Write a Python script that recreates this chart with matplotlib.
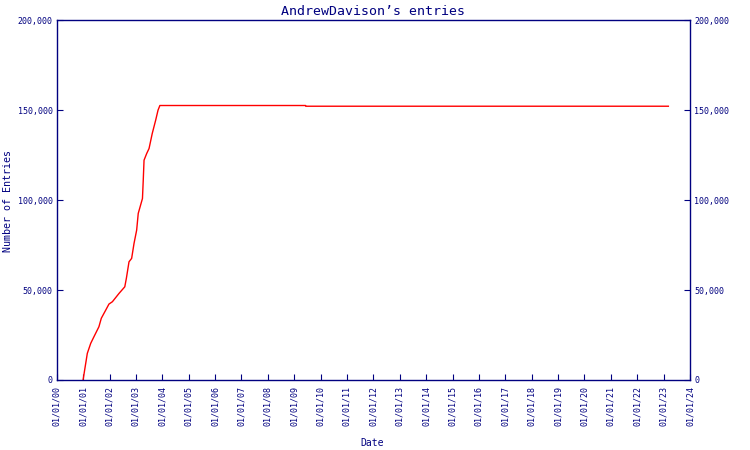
import matplotlib
matplotlib.use("Agg")
import matplotlib.pyplot as plt
import matplotlib.ticker as mticker
import datetime as dt
import matplotlib.dates as mdates

# Data: decimal years since 2000 and cumulative entry counts
years = [1.00, 1.06, 1.12, 1.16, 1.29, 1.41, 1.60, 1.69, 1.86, 1.98, 2.11, 2.36,
         2.58, 2.64, 2.74, 2.84, 2.93, 3.03, 3.09, 3.25, 3.28, 3.31, 3.41, 3.50,
         3.62, 3.75, 3.84, 3.91, 9.43, 9.44, 23.18]
entries = [0, 5600, 11100, 14800, 20400, 24000, 29600, 34300, 38900, 42200, 43500, 48100,
           51800, 56500, 65700, 67600, 75900, 83300, 92600, 100900, 111100, 122200, 125900, 128700,
           137000, 144400, 150000, 152600, 152600, 152200, 152200]
tick_years = list(range(2000, 2025))
title = "AndrewDavison\u2019s entries"

navy = "#000080"
plt.rcParams['font.family'] = ['DejaVu Sans Mono']

def to_date(y):
    base = dt.datetime(2000, 1, 1)
    return base + dt.timedelta(days=y * 365.25)

dates = [to_date(y) for y in years]

fig = plt.figure(figsize=(7.5, 4.5), dpi=100)
ax = fig.add_axes([0.0756, 0.1556, 0.92 - 0.0756, 0.955 - 0.1556])
ax.plot(dates, entries, color="red", linewidth=1.0)

ax.set_xlim(dt.datetime(2000, 1, 1), dt.datetime(2024, 1, 1))
ax.set_ylim(0, 200000)
ax.set_xticks([dt.datetime(y, 1, 1) for y in tick_years])
ax.xaxis.set_major_formatter(mdates.DateFormatter("%m/%d/%y"))
ax.set_yticks([0, 50000, 100000, 150000, 200000])
ax.yaxis.set_major_formatter(mticker.FuncFormatter(lambda v, p: f"{int(v):,}"))

for s in ax.spines.values():
    s.set_color(navy)
    s.set_linewidth(1.0)

ax.tick_params(axis='x', direction='in', length=4, color=navy, labelcolor=navy,
               labelsize=6, rotation=90, pad=4)
ax.tick_params(axis='y', direction='in', length=4, color=navy, labelcolor=navy,
               labelsize=6, left=True, right=True, labelleft=True, labelright=True, pad=3)

ax.set_title(title, color=navy, fontsize=9.5, pad=4)
fig.text(372 / 750, 1 - 443 / 450, "Date", color=navy, fontsize=7,
         ha="center", va="center")
fig.text(8 / 750, 1 - 201 / 450, "Number of Entries", color=navy, fontsize=7.2,
         ha="center", va="center", rotation=90)

fig.savefig("out.png", dpi=100)
